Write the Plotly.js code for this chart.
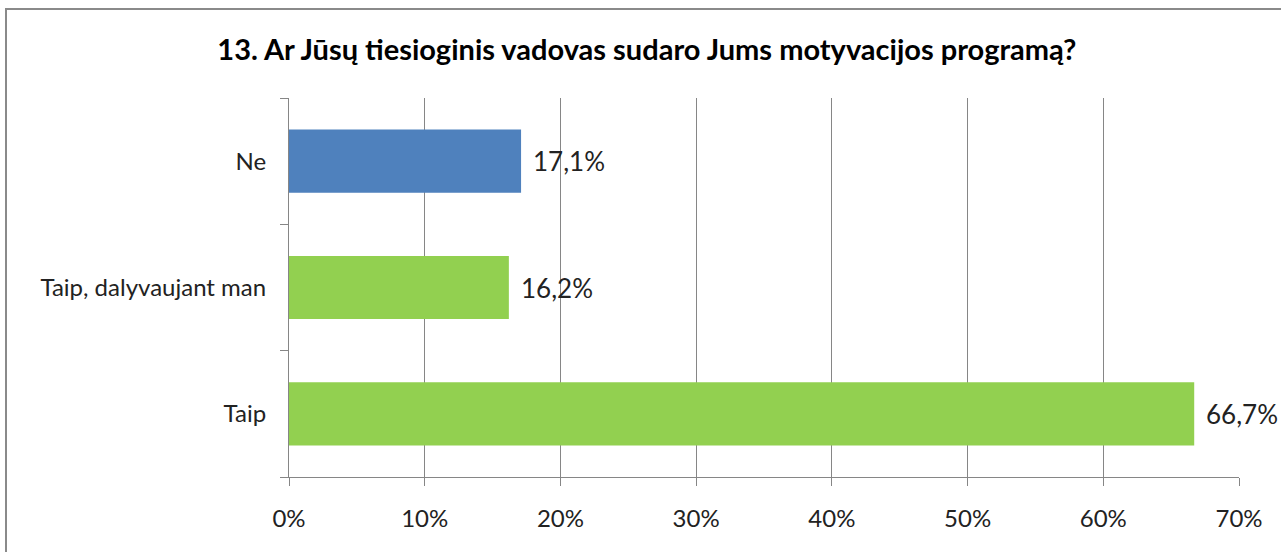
<!DOCTYPE html>
<html>
<head>
<meta charset="utf-8">
<script src="https://cdn.plot.ly/plotly-3.0.1.min.js"></script>
<style>html,body{margin:0;padding:0;background:#fff;}#chart{width:1281px;height:552px;}</style>
</head>
<body>
<div id="chart"></div>
<script>
const categories = ['Taip', 'Taip, dalyvaujant man', 'Ne'];
const values = [66.7, 16.2, 17.1];
const valueLabels = ['66,7%', '16,2%', '17,1%'];
const barColors = ['#92D050', '#92D050', '#4F81BD'];
const titleText = '13. Ar Jūsų tiesioginis vadovas sudaro Jums motyvacijos programą?';

const font = 'Lato, "Open Sans", sans-serif';
const L = 289, R = 42, T = 98, B = 75, W = 1281, H = 552;
const pw = W - L - R, ph = H - T - B;
const px = v => (v - L) / pw;
const py = v => (H - B - v) / ph;

const trace = {
  type: 'bar',
  orientation: 'h',
  y: categories,
  x: values,
  marker: {color: barColors, line: {width: 0}},
  width: 0.5,
  hoverinfo: 'none'
};

const annotations = categories.map((c, i) => ({
  x: values[i], y: c, xref: 'x', yref: 'y',
  text: valueLabels[i], showarrow: false,
  xanchor: 'left', yanchor: 'middle', xshift: 10,
  font: {family: font, size: 26, color: '#222'}
}));

const layout = {
  width: W, height: H,
  margin: {l: L, r: R, t: T, b: B, pad: 0},
  paper_bgcolor: '#fff', plot_bgcolor: '#fff',
  showlegend: false,
  title: {text: titleText, font: {family: font, size: 29, color: '#000', weight: 'bold'}, x: 0.505, xanchor: 'center', y: 0.91, yanchor: 'middle'},
  xaxis: {
    range: [0, 70], dtick: 10, tick0: 0, ticksuffix: '%',
    showgrid: true, gridcolor: '#868686', gridwidth: 1,
    zeroline: false,
    showline: true, linecolor: '#868686', linewidth: 1,
    ticks: 'outside', ticklen: 8, tickcolor: '#868686',
    tickfont: {family: font, size: 24, color: '#222'},
    ticklabelstandoff: 12,
    fixedrange: true
  },
  yaxis: {
    type: 'category',
    showline: true, linecolor: '#868686', linewidth: 1,
    ticks: 'outside', ticklen: 8, tickcolor: '#868686', tickson: 'boundaries',
    tickfont: {family: font, size: 24, color: '#222'},
    ticklabelstandoff: 17,
    showgrid: false, zeroline: false,
    fixedrange: true
  },
  annotations: annotations,
  shapes: [{
    type: 'rect', xref: 'paper', yref: 'paper',
    x0: px(6), x1: px(1295), y0: py(565), y1: py(9),
    line: {color: '#8a8a8a', width: 2}, fillcolor: 'rgba(0,0,0,0)', layer: 'above'
  }]
};

Plotly.newPlot('chart', [trace], layout, {displayModeBar: false, staticPlot: true});
</script>
</body>
</html>
